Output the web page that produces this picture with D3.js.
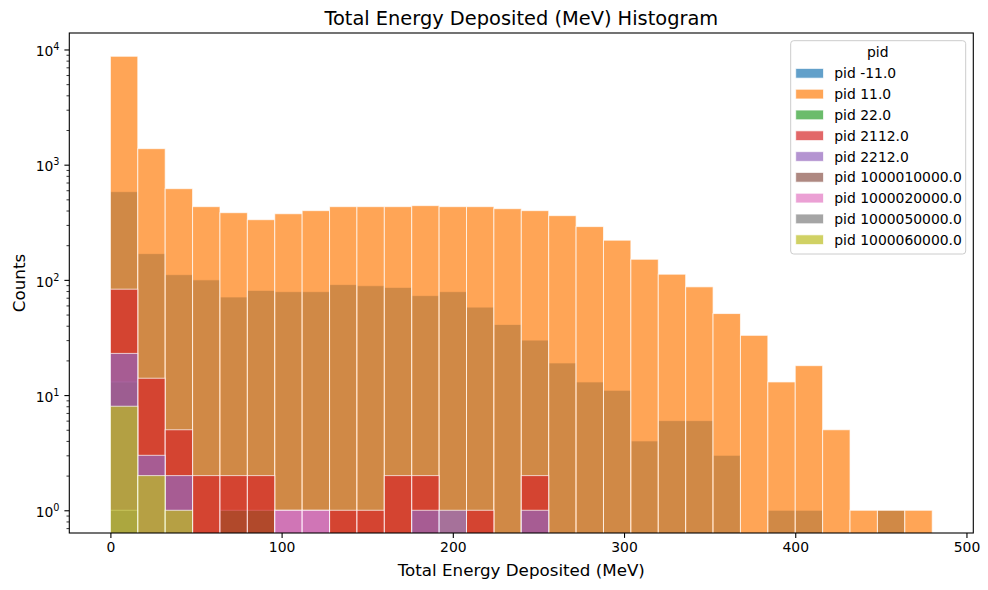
<!DOCTYPE html>
<html>
<head>
<meta charset="utf-8">
<script src="https://cdn.jsdelivr.net/npm/d3@7"></script>
<style>
  body { margin: 0; background: #fff; }
  svg { font-family: "DejaVu Sans", sans-serif; }
</style>
</head>
<body>
<svg width="988" height="590"></svg>
<script>
// bins of 16 MeV from 0 to 480
var binEdges = d3.range(0, 481, 16)

var pids = ["-11.0", "11.0", "22.0", "2112.0", "2212.0", "1000010000.0", "1000020000.0", "1000050000.0", "1000060000.0"]
var colors = ["#1f77b4", "#ff7f0e", "#2ca02c", "#d62728", "#9467bd", "#8c564b", "#e377c2", "#7f7f7f", "#bcbd22"]

// counts per bin, one array per pid
var countsPositron = [583, 169, 111, 100, 71, 81, 79, 79, 91, 89, 86, 73, 79, 58, 41, 30, 19, 13, 11, 4, 6, 6, 3, 0, 1, 1, 0, 0, 1, 0]
var countsElectron = [8730, 1377, 619, 432, 383, 333, 375, 399, 432, 432, 432, 441, 432, 432, 415, 399, 361, 290, 221, 151, 112, 87, 51, 33, 13, 18, 5, 1, 1, 1]
var countsPhoton = [13, 0, 0, 0, 1, 1, 0, 0, 0, 0, 0, 0, 0, 0, 0, 0, 0, 0, 0, 0, 0, 0, 0, 0, 0, 0, 0, 0, 0, 0]
var countsNeutron = [83, 14, 5, 2, 2, 2, 0, 0, 1, 1, 2, 2, 0, 1, 0, 2, 0, 0, 0, 0, 0, 0, 0, 0, 0, 0, 0, 0, 0, 0]
var countsProton = [23, 3, 2, 0, 0, 0, 1, 1, 0, 0, 0, 1, 1, 0, 0, 1, 0, 0, 0, 0, 0, 0, 0, 0, 0, 0, 0, 0, 0, 0]
var countsDeuteron = [0, 0, 0, 0, 0, 0, 0, 0, 0, 0, 0, 0, 0, 0, 0, 0, 0, 0, 0, 0, 0, 0, 0, 0, 0, 0, 0, 0, 0, 0]
var countsHelium = [0, 0, 0, 0, 0, 0, 1, 1, 0, 0, 0, 0, 0, 0, 0, 0, 0, 0, 0, 0, 0, 0, 0, 0, 0, 0, 0, 0, 0, 0]
var countsBoron = [1, 0, 0, 0, 0, 0, 0, 0, 0, 0, 0, 0, 0, 0, 0, 0, 0, 0, 0, 0, 0, 0, 0, 0, 0, 0, 0, 0, 0, 0]
var countsCarbon = [8, 2, 1, 0, 0, 0, 0, 0, 0, 0, 0, 0, 0, 0, 0, 0, 0, 0, 0, 0, 0, 0, 0, 0, 0, 0, 0, 0, 0, 0]

var xTicks = [0, 100, 200, 300, 400, 500]
var yTicks = [1, 10, 100, 1000, 10000]

var series = [countsPositron, countsElectron, countsPhoton, countsNeutron, countsProton,
  countsDeuteron, countsHelium, countsBoron, countsCarbon].map((c, i) => {
  return {name: "pid " + pids[i], color: colors[i], values: c}
})

var svg = d3.select('svg')
var width = 988, height = 590
var margin = {left: 69.3, right: 14.7, top: 33, bottom: 57}
var plotBottom = height - margin.bottom

var x = d3.scaleLinear()
  .domain([-24, 504])
  .range([margin.left, width - margin.right])
var y = d3.scaleLog()
  .domain([0.635, 13900])
  .range([plotBottom, margin.top])

svg.append("defs").append("clipPath").attr("id", "plot")
  .append("rect")
  .attr("x", margin.left).attr("y", margin.top)
  .attr("width", width - margin.left - margin.right)
  .attr("height", plotBottom - margin.top)

var bars = svg.append("g").attr("clip-path", "url(#plot)")
series.forEach(s => {
  var bins = s.values.map((v, i) => ({x0: binEdges[i], x1: binEdges[i + 1], v: v})).filter(d => d.v > 0)
  bars.append("g")
    .selectAll("rect")
    .data(bins)
    .enter()
    .append("rect")
      .attr("x", d => x(d.x0))
      .attr("width", d => x(d.x1) - x(d.x0))
      .attr("y", d => y(d.v))
      .attr("height", d => plotBottom + 2 - y(d.v))
      .attr("fill", s.color)
      .attr("fill-opacity", 0.7)
      .attr("stroke", "#fff")
      .attr("stroke-opacity", 0.7)
      .attr("stroke-width", 1)
})

// x axis
var xAxis = svg.append("g")
  .attr("transform", `translate(0,${plotBottom})`)
  .call(d3.axisBottom(x).tickValues(xTicks).tickSize(4.9).tickPadding(4.2).tickFormat(d3.format("d")))
xAxis.select(".domain").remove()
xAxis.selectAll("text").attr("font-size", 13.9).attr("fill", "#000").attr("font-family", "DejaVu Sans")
xAxis.selectAll("line").attr("stroke", "#000").attr("stroke-width", 1.1)

// y axis, major + minor
var minor = []
for (var k = -1; k <= 4; k++) {
  for (var m = 2; m <= 9; m++) {
    var v = m * Math.pow(10, k)
    if (v > y.domain()[0] && v < y.domain()[1]) minor.push(v)
  }
}
var yMinor = svg.append("g")
  .attr("transform", `translate(${margin.left},0)`)
  .call(d3.axisLeft(y).tickValues(minor).tickSize(2.8).tickFormat(""))
yMinor.select(".domain").remove()
yMinor.selectAll("line").attr("stroke", "#000").attr("stroke-width", 0.8)

var yAxis = svg.append("g")
  .attr("transform", `translate(${margin.left},0)`)
  .call(d3.axisLeft(y).tickValues(yTicks).tickSize(4.9).tickPadding(4.9).tickFormat(""))
yAxis.select(".domain").remove()
yAxis.selectAll("line").attr("stroke", "#000").attr("stroke-width", 1.1)
yAxis.selectAll(".tick text")
  .attr("font-size", 13.9).attr("fill", "#000").attr("font-family", "DejaVu Sans")
  .attr("dy", "0.45em")
  .each(function(d) {
    var t = d3.select(this)
    t.append("tspan").text("10")
    t.append("tspan").attr("font-size", 9.7).attr("dy", -6).text(Math.round(Math.log10(d)))
  })

// spines
svg.append("rect")
  .attr("x", margin.left).attr("y", margin.top)
  .attr("width", width - margin.left - margin.right)
  .attr("height", plotBottom - margin.top)
  .attr("fill", "none").attr("stroke", "#000").attr("stroke-width", 1.1)

// title and labels
var cx = (margin.left + width - margin.right) / 2
svg.append("text")
  .attr("x", cx).attr("y", 25)
  .attr("text-anchor", "middle").attr("font-size", 19.4)
  .text("Total Energy Deposited (MeV) Histogram")
svg.append("text")
  .attr("x", cx).attr("y", 576)
  .attr("text-anchor", "middle").attr("font-size", 16.7)
  .text("Total Energy Deposited (MeV)")
svg.append("text")
  .attr("transform", `translate(25,${(margin.top + plotBottom) / 2}) rotate(-90)`)
  .attr("text-anchor", "middle").attr("font-size", 16.7)
  .text("Counts")

// legend
var lg = svg.append("g").attr("transform", "translate(790.7,40.7)")
lg.append("rect")
  .attr("width", 175).attr("height", 213.3).attr("rx", 3)
  .attr("fill", "#fff").attr("fill-opacity", 0.8)
  .attr("stroke", "#ccc").attr("stroke-width", 1)
lg.append("text")
  .attr("x", 87).attr("y", 16)
  .attr("text-anchor", "middle").attr("font-size", 13.9)
  .text("pid")
var item = lg.selectAll("g.item")
  .data(series)
  .enter()
  .append("g")
    .attr("class", "item")
    .attr("transform", (d, i) => `translate(0,${32.6 + i * 20.8})`)
item.append("rect")
  .attr("x", 5).attr("y", -4.85)
  .attr("width", 27.8).attr("height", 9.7)
  .attr("fill", d => d.color).attr("fill-opacity", 0.7)
  .attr("stroke", "#fff").attr("stroke-opacity", 0.7)
item.append("text")
  .attr("x", 43.6).attr("y", 5)
  .attr("font-size", 13.9)
  .text(d => d.name)
</script>
</body>
</html>
